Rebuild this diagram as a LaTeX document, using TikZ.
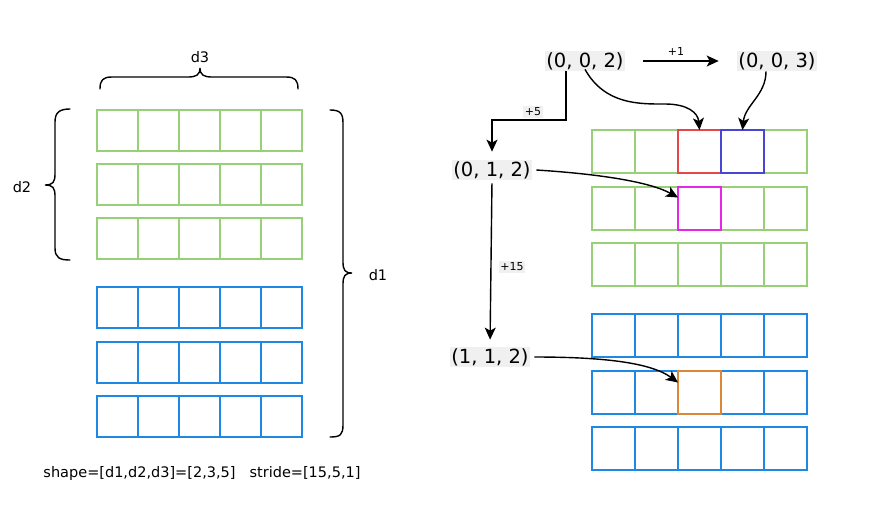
\documentclass[tikz,border=0pt]{standalone}
\usepackage{fontspec}
\setmainfont{DejaVu Sans}
\usetikzlibrary{arrows.meta,calc}
\definecolor{gridgreen}{RGB}{151,208,119}
\definecolor{gridblue}{RGB}{30,136,229}
\definecolor{hlred}{RGB}{230,70,70}
\definecolor{hlblue}{RGB}{70,70,210}
\definecolor{hlmag}{RGB}{230,40,230}
\definecolor{hlorange}{RGB}{220,135,55}
\definecolor{lblbg}{RGB}{240,240,240}
\begin{document}
\begin{tikzpicture}[x=1pt,y=-1pt,
  lcell/.style={draw, minimum width=41pt, minimum height=41pt, inner sep=0pt, outer sep=0pt, line width=1.7pt},
  rcell/.style={draw, minimum width=43pt, minimum height=43pt, inner sep=0pt, outer sep=0pt, line width=1.7pt},
  coordlbl/.style={fill=lblbg, inner sep=1.5pt, font=\fontsize{19.5}{22}\selectfont},
  steplbl/.style={fill=lblbg, inner sep=1.5pt, font=\fontsize{11}{13}\selectfont},
  plainlbl/.style={inner sep=1pt, font=\fontsize{11}{13}\selectfont},
  dimlbl/.style={font=\fontsize{14.5}{16}\selectfont},
  arr/.style={-{Stealth[length=12pt,width=11pt,inset=3pt]}, line width=1.4pt},
  brace/.style={line width=1.4pt, line cap=round}]
\useasboundingbox (0,0) rectangle (875,515);

% left grid
\foreach \r/\y/\cc in {1/110/gridgreen,2/164/gridgreen,3/218/gridgreen,4/287/gridblue,5/342/gridblue,6/396/gridblue}{
  \foreach \col in {1,...,5}{
    \node[lcell, draw=\cc] (L-\r-\col) at ({97+41*(\col-0.5)},{\y+20.5}) {};
  }
}
% right grid
\foreach \r/\y/\cc in {1/130/gridgreen,2/187/gridgreen,3/243/gridgreen,4/314/gridblue,5/371/gridblue,6/427/gridblue}{
  \foreach \col in {1,...,5}{
    \node[rcell, draw=\cc] (R-\r-\col) at ({592+43*(\col-0.5)},{\y+21.5}) {};
  }
}
% highlighted cells
\node[rcell, draw=hlred] (hred) at (R-1-3.center) {};
\node[rcell, draw=hlblue] (hblue) at (R-1-4.center) {};
\node[rcell, draw=hlmag] (hmag) at (R-2-3.center) {};
\node[rcell, draw=hlorange] (horange) at (R-5-3.center) {};

% braces
\draw[brace] (100,89) .. controls (100,80) and (103,77) .. (112,77) -- (188,77) .. controls (196,77) and (200,75) .. (200,68) .. controls (200,75) and (204,77) .. (212,77) -- (286,77) .. controls (295,77) and (298,80) .. (298,89);
\node[dimlbl] (d3) at (200,57) {d3};
\draw[brace] (70,109) .. controls (60,109) and (55,112) .. (55,122) -- (55,174) .. controls (55,182) and (53,185) .. (45,185) .. controls (53,185) and (55,188) .. (55,196) -- (55,248) .. controls (55,258) and (60,260) .. (70,260);
\node[dimlbl] (d2) at (22,187) {d2};
\draw[brace] (330,110) .. controls (340,110) and (343,113) .. (343,123) -- (343,262) .. controls (343,270) and (345,273) .. (352,273) .. controls (345,273) and (343,276) .. (343,284) -- (343,425) .. controls (343,435) and (340,437) .. (330,437);
\node[dimlbl] (d1) at (378,275) {d1};

\node[dimlbl] (shape) at (202,473) {shape=[d1,d2,d3]=[2,3,5]\hspace{14pt}stride=[15,5,1]};

% coordinate labels
\node[coordlbl] (n002) at (585,61) {(0, 0, 2)};
\node[coordlbl] (n003) at (777,61) {(0, 0, 3)};
\node[coordlbl] (n012) at (492,170) {(0, 1, 2)};
\node[coordlbl] (n112) at (490,357) {(1, 1, 2)};

% arrows
\draw[arr, shorten <=18pt, shorten >=18pt] (n002.east) -- (n003.west);
\node[plainlbl] (p1) at (676,51) {+1};

\coordinate (b5) at (566,120);
\draw[arr, shorten >=8pt] (n002.south -| b5) -- (b5) -| (n012.north);
\node[steplbl] (p5) at (533,112) {+5};

\draw[arr] ([yshift=2pt]n002.south) .. controls (605,105) and (640,104) .. (665,104) .. controls (688,104) and (698,113) .. (hred.north);
\draw[arr] ([xshift=-11pt]n003.south) .. controls (766,95) and (745,105) .. (hblue.north);
\draw[arr] ([xshift=4pt]n012.east) .. controls (600,174) and (650,182) .. ([yshift=11pt]hmag.west);
\draw[arr, shorten <=3pt, shorten >=7pt] (n012.south) -- (n112.north);
\node[steplbl] (p15) at (512,267) {+15};
\draw[arr] ([xshift=4pt]n112.east) .. controls (600,357) and (650,362) .. ([yshift=10pt]horange.west);
\end{tikzpicture}
\end{document}
